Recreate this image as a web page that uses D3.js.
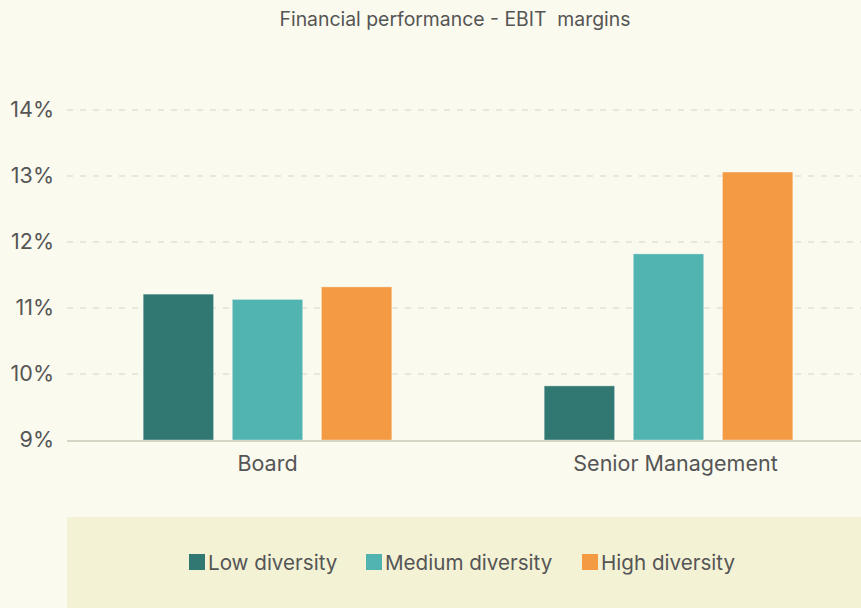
<!DOCTYPE html>
<html>
<head>
<meta charset="utf-8">
<script src="https://cdn.jsdelivr.net/npm/d3@7"></script>
<style>
  body { margin: 0; background: #fbfaef; }
  svg { display: block; font-family: Inter, Roboto, sans-serif; }
</style>
</head>
<body>
<div id="chart"></div>
<script>
// data
var groups = ['Board', 'Senior Management'];
var series = ['Low diversity', 'Medium diversity', 'High diversity'];
var lowValues = [11.21, 9.82];
var mediumValues = [11.13, 11.82];
var highValues = [11.32, 13.06];
var yTicks = [9, 10, 11, 12, 13, 14];
var colors = ['#327872', '#52b4b0', '#f39a42'];

var width = 861,
    height = 608,
    marginLeft = 67,
    plotRight = 869,
    plotTop = 110,
    plotBottom = 440;

var values = [lowValues, mediumValues, highValues];

var svg = d3.select('#chart').append('svg')
  .attr('width', width)
  .attr('height', height);

svg.append('rect')
  .attr('width', width).attr('height', height)
  .attr('fill', '#fbfaef');

svg.append('text')
  .attr('x', 455)
  .attr('y', 26)
  .attr('text-anchor', 'middle')
  .style('font-size', '19.4px')
  .style('fill', '#555')
  .text('Financial performance - EBIT\u00a0 margins');

var y = d3.scaleLinear()
  .domain([9, 14])
  .range([plotBottom, plotTop]);

var x0 = d3.scaleBand()
  .domain(groups)
  .range([marginLeft, plotRight])
  .paddingInner(0.38)
  .paddingOuter(0.19);

var x1 = d3.scaleBand()
  .domain(series)
  .range([0, x0.bandwidth()])
  .paddingInner(0.21);

// grid lines
svg.append('g')
  .selectAll('line')
  .data(yTicks.slice(1))
  .enter()
  .append('line')
  .attr('x1', marginLeft)
  .attr('x2', width)
  .attr('y1', function(d) { return y(d); })
  .attr('y2', function(d) { return y(d); })
  .attr('stroke', '#d6d5c8')
  .attr('stroke-width', 1)
  .attr('stroke-dasharray', '6,7');

// y axis labels
var yAxis = d3.axisLeft(y)
  .tickValues(yTicks)
  .tickSize(0)
  .tickPadding(13)
  .tickFormat(function(d) { return d + '%'; });

var yAxisGroup = svg.append('g')
  .attr('transform', 'translate(' + marginLeft + ',0)')
  .call(yAxis);
yAxisGroup.select('.domain').remove();
yAxisGroup.selectAll('text')
  .style('font-size', '21.5px')
  .style('fill', '#555')
  .style('font-family', 'Inter, sans-serif');

// bars
svg.append('g')
  .selectAll('g')
  .data(series)
  .enter()
  .append('g')
  .attr('fill', function(d, i) { return colors[i]; })
  .selectAll('rect')
  .data(function(s, i) {
    return groups.map(function(g, j) { return { group: g, series: s, value: values[i][j] }; });
  })
  .enter()
  .append('rect')
  .attr('x', function(d) { return x0(d.group) + x1(d.series); })
  .attr('y', function(d) { return y(d.value); })
  .attr('width', x1.bandwidth())
  .attr('height', function(d) { return y(9) - y(d.value); })
  .attr('stroke', 'rgba(255,255,255,0.35)')
  .attr('stroke-width', 1);

// x axis
var xAxis = d3.axisBottom(x0).tickSize(0).tickPadding(16);
var xAxisGroup = svg.append('g')
  .attr('transform', 'translate(0,' + plotBottom + ')')
  .call(xAxis);
xAxisGroup.select('.domain').remove();
xAxisGroup.selectAll('text')
  .attr('dx', function(d, i) { return i === 1 ? 7 : 0; }) // long label sits a bit right in the original
  .style('font-size', '21.5px')
  .style('fill', '#555')
  .style('font-family', 'Inter, sans-serif');

svg.append('line')
  .attr('x1', marginLeft).attr('x2', width)
  .attr('y1', plotBottom + 1).attr('y2', plotBottom + 1)
  .attr('stroke', '#d6d4c4')
  .attr('stroke-width', 2);

// legend
svg.append('rect')
  .attr('x', 67).attr('y', 517)
  .attr('width', width - 67).attr('height', height - 517)
  .attr('fill', '#f4f2d5');

var legendX = [189, 366, 582];
var legend = svg.append('g')
  .selectAll('g')
  .data(series)
  .enter()
  .append('g')
  .attr('transform', function(d, i) { return 'translate(' + legendX[i] + ',554)'; });

legend.append('rect')
  .attr('width', 16).attr('height', 16)
  .attr('fill', function(d, i) { return colors[i]; });

legend.append('text')
  .attr('x', 19)
  .attr('y', 15.5)
  .style('font-size', '20.6px')
  .style('fill', '#555')
  .text(function(d) { return d; });
</script>
</body>
</html>
